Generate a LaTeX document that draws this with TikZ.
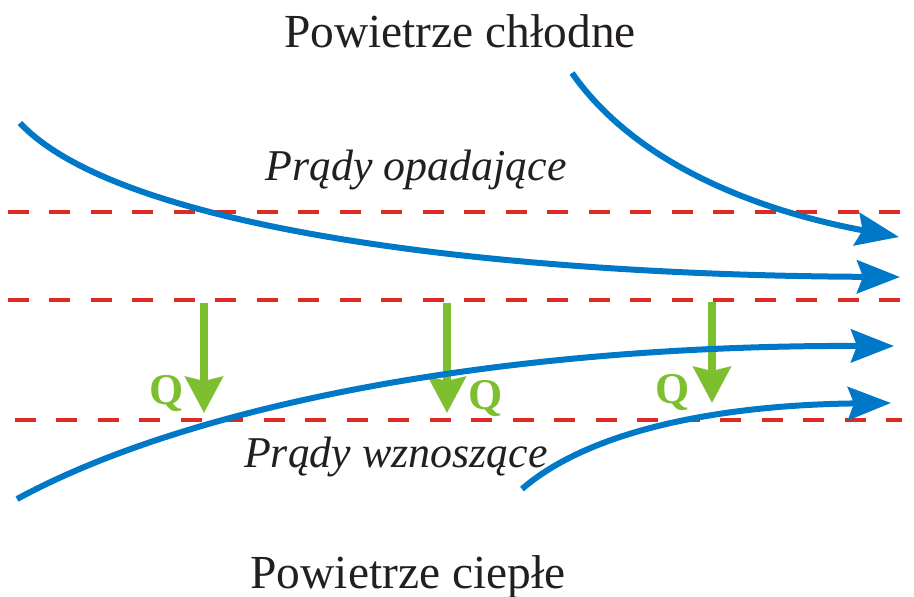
\documentclass[tikz,border=0pt]{standalone}
\usepackage{fontspec}
\setmainfont{Liberation Serif}
\usetikzlibrary{arrows.meta}
\definecolor{cFlow}{HTML}{0078C8}
\definecolor{cLayer}{HTML}{DD2A22}
\definecolor{cHeat}{HTML}{7DBF2E}
\definecolor{cText}{HTML}{231F20}
\tikzset{
  airlabel/.style={font=\fontsize{27}{30}\selectfont, text=cText, anchor=base, inner sep=0pt},
  currlabel/.style={font=\fontsize{25}{28}\selectfont\itshape, text=cText, anchor=base, inner sep=0pt},
  qlabel/.style={font=\fontsize{25}{28}\selectfont\bfseries, text=cHeat, anchor=base, inner sep=0pt},
  layer/.style={draw=cLayer, line width=0.08cm, dash pattern=on 0.42cm off 0.41cm},
  flow/.style={draw=cFlow, line width=0.12cm, -{Stealth[length=0.86cm, width=0.66cm, inset=0.12cm]}},
  heat/.style={draw=cHeat, line width=0.16cm, -{Stealth[length=0.72cm, width=0.74cm, inset=0.08cm]}},
}

\begin{document}
\begin{tikzpicture}[x=0.02cm, y=-0.02cm]
    \useasboundingbox (0,0) rectangle (914,596);
    % air masses and currents
    \node[airlabel]  (cold) at (460,47)  {Powietrze chłodne};
    \node[airlabel]  (warm) at (408,588) {Powietrze ciepłe};
    \node[currlabel] (down) at (416,180) {Prądy opadające};
    \node[currlabel] (up)   at (396,467) {Prądy wznoszące};
    % layer boundaries
    \draw[layer] (8,212) -- (900,212);
    \draw[layer] (8,300) -- (914,300);
    \draw[layer] (15,420) -- (902,420);
    % heat transfer
    \coordinate (h1a) at (204,303); \coordinate (h1b) at (204,413);
    \coordinate (h2a) at (447,303); \coordinate (h2b) at (447,413);
    \coordinate (h3a) at (712,302); \coordinate (h3b) at (712,403);
    \draw[heat] (h1a) -- (h1b);
    \draw[heat] (h2a) -- (h2b);
    \draw[heat] (h3a) -- (h3b);
    \node[qlabel] (q1) at (167,404) {Q};
    \node[qlabel] (q2) at (486,409) {Q};
    \node[qlabel] (q3) at (673,403) {Q};
    % streamlines
    \coordinate (a0) at (572,73);  \coordinate (a1) at (899,237);
    \coordinate (b0) at (20,123);  \coordinate (b1) at (900,277);
    \coordinate (c0) at (17,499);  \coordinate (c1) at (894,346);
    \coordinate (d0) at (522,489); \coordinate (d1) at (891,403);
    \draw[flow] (a0) .. controls (640,170) and (770,213) .. (a1);
    \draw[flow] (b0) .. controls (120,230) and (500,275) .. (b1);
    \draw[flow] (c0) .. controls (190,405) and (500,345) .. (c1);
    \draw[flow] (d0) .. controls (590,430) and (720,405) .. (d1);
\end{tikzpicture}
\end{document}
